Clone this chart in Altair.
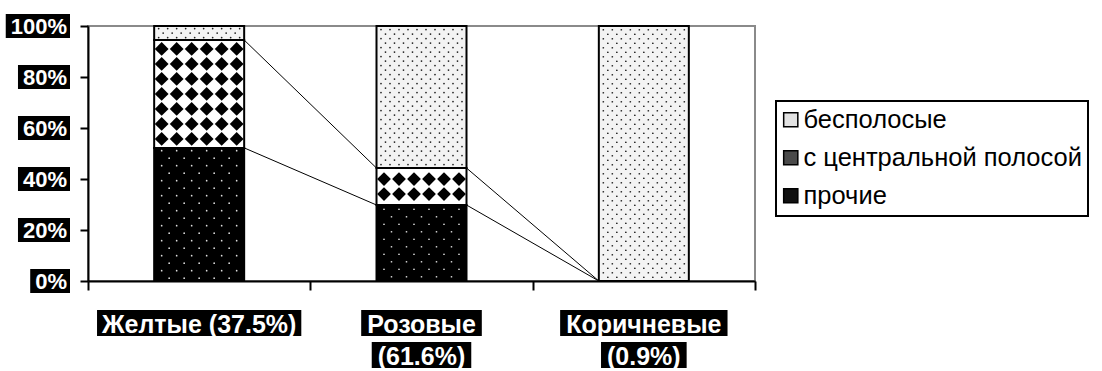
import altair as alt
import pandas as pd

# ---------------- data ----------------
categories = ["Желтые (37.5%)", "Розовые (61.6%)", "Коричневые (0.9%)"]
category_lines = [["Желтые (37.5%)"], ["Розовые", "(61.6%)"], ["Коричневые", "(0.9%)"]]
series_bottom_to_top = ["прочие", "с центральной полосой", "бесполосые"]
prochie = [52.2, 29.8, 0.0]
central = [42.3, 14.5, 0.0]
bespolosye = [5.5, 55.7, 100.0]
y_tick_values = [0, 20, 40, 60, 80, 100]
y_tick_labels = ["0%", "20%", "40%", "60%", "80%", "100%"]
legend_order = ["бесполосые", "с центральной полосой", "прочие"]

# ---------------- layout / style ----------------
W, H = 667, 255
PXU = W / len(categories)          # pixels per category unit
PXV = H / 100.0                    # pixels per percent
BAR_HALF = 45 / PXU
FILLS = {"бесполосые": "#f3f3f3", "с центральной полосой": "#ffffff", "прочие": "#000000"}
LEGEND_FILLS = {"бесполосые": "#e2e2e2", "с центральной полосой": "#4a4a4a", "прочие": "#111111"}
FONT = "Liberation Sans"

# approximate glyph widths (em) for Liberation Sans Bold
_W = {"%": 0.889, "(": 0.333, ")": 0.333, ".": 0.278, " ": 0.278,
      "Ж": 0.94, "К": 0.70, "Р": 0.667, "е": 0.556, "л": 0.60, "т": 0.46, "ы": 0.80,
      "о": 0.611, "з": 0.52, "в": 0.58, "р": 0.611, "и": 0.611, "ч": 0.58, "н": 0.611}


def text_w(s, size):
    return sum(_W.get(c, 0.556) for c in s) * size


# ---------------- tables ----------------
rows = []
for i, cat in enumerate(categories):
    vals = [prochie[i], central[i], bespolosye[i]]
    cum = 0.0
    for s, v in zip(series_bottom_to_top, vals):
        if v > 0:
            rows.append({"cat": cat, "series": s, "x0": i + 0.5 - BAR_HALF, "x1": i + 0.5 + BAR_HALF,
                         "y0": cum, "y1": cum + v, "fillcol": FILLS[s]})
        cum += v
bars = pd.DataFrame(rows)


# fill textures (purely decorative hatching inside each bar segment)
def texture(seg, dx, dy, stagger, half):
    out = []
    left_px = seg["x0"] * PXU
    width_px = (seg["x1"] - seg["x0"]) * PXU
    top_px = seg["y1"] * PXV
    bot_px = seg["y0"] * PXV
    band = top_px - bot_px
    nrow = int((band - 2 * half - 2) // dy) + 1 if band > 2 * half + 2 else 0
    y_start = top_px - (band - (nrow - 1) * dy) / 2
    for r in range(nrow):
        py = y_start - r * dy
        off = (stagger if r % 2 else 0.0)
        px = off + dx / 2
        while px + half <= width_px - 0.5:
            if px - half >= 0.5:
                out.append({"tx": (left_px + px) / PXU, "ty": py / PXV})
            px += dx
    return out


tex = {"прочие": [], "с центральной полосой": [], "бесполосые": []}
for _, sg in bars.iterrows():
    if sg["series"] == "прочие":
        tex["прочие"] += texture(sg, 15, 7.5, 7.5, 1)
    elif sg["series"] == "с центральной полосой":
        tex["с центральной полосой"] += texture(sg, 15, 15, 0, 7)
    else:
        tex["бесполосые"] += texture(sg, 9, 4.5, 4.5, 1)

seg = []
for i in range(len(categories) - 1):
    a = [prochie[i], prochie[i] + central[i]]
    b = [prochie[i + 1], prochie[i + 1] + central[i + 1]]
    for ya, yb in zip(a, b):
        seg.append({"x0": i + 0.5 + BAR_HALF, "x1": i + 1.5 - BAR_HALF, "y0": ya, "y1": yb})
lines = pd.DataFrame(seg)

YFS = 22
ylab = pd.DataFrame({"v": y_tick_values, "lab": y_tick_labels})
ylab["lx"] = [(-18 - text_w(t, YFS) - 8) / PXU for t in y_tick_labels]
ylab["rx"] = -18 / PXU
ylab["tx"] = -21 / PXU
ylab["yt"] = ylab["v"] + 12 / PXV
ylab["yb"] = ylab["v"] - 12 / PXV

XFS = 25
xl = []
for i, ls in enumerate(category_lines):
    for r, t in enumerate(ls):
        half = (text_w(t, XFS) + 12) / 2 / PXU
        xl.append({"lab": t, "cx": i + 0.5, "lx": i + 0.5 - half, "rx": i + 0.5 + half,
                   "yt": -(29 + 32 * r) / PXV, "yb": -(55 + 32 * r) / PXV, "yc": -(42.5 + 32 * r) / PXV})
xlab = pd.DataFrame(xl)

# ---------------- chart ----------------
xscale = alt.Scale(domain=[0, 3], nice=False, zero=False)
yscale = alt.Scale(domain=[0, 100], nice=False, zero=False)
xax = alt.Axis(values=[0, 1, 2, 3], labels=False, title=None, grid=False, ticks=True, zindex=1,
               tickSize=9, tickColor="black", tickWidth=2, domainColor="black", domainWidth=2)
yax = alt.Axis(values=y_tick_values, labels=False, title=None, grid=False, ticks=True, zindex=1,
               tickSize=8, tickColor="black", tickWidth=2, domainColor="black", domainWidth=2)


def X(f):
    return alt.X(f, scale=xscale, axis=xax)


def Y(f):
    return alt.Y(f, scale=yscale, axis=yax)


bar_fill = alt.Chart(bars).mark_rect(strokeWidth=0).encode(
    x=X("x0:Q"), x2="x1:Q", y=Y("y0:Q"), y2="y1:Q",
    fill=alt.Fill("fillcol:N", scale=None),
)

dots_light = alt.Chart(pd.DataFrame(tex["бесполосые"])).mark_circle(size=3, color="#222222", opacity=1).encode(
    x=X("tx:Q"), y=Y("ty:Q"))
dots_dark = alt.Chart(pd.DataFrame(tex["прочие"])).mark_circle(size=3, color="#dddddd", opacity=1).encode(
    x=X("tx:Q"), y=Y("ty:Q"))
diamonds = alt.Chart(pd.DataFrame(tex["с центральной полосой"])).mark_point(
    shape="diamond", filled=True, size=190, color="black", opacity=1, strokeWidth=0).encode(
    x=X("tx:Q"), y=Y("ty:Q"))

bar_outline = alt.Chart(bars).mark_rect(fillOpacity=0, stroke="black", strokeWidth=2).encode(
    x=X("x0:Q"), x2="x1:Q", y=Y("y0:Q"), y2="y1:Q",
)

# legend carrier (zero-size symbols; only the legend is visible)
legend_layer = alt.Chart(pd.DataFrame({"series": legend_order})).mark_square(size=0, opacity=1).encode(
    x=alt.value(0), y=alt.value(0),
    color=alt.Color("series:N", scale=alt.Scale(domain=legend_order,
                                                range=[LEGEND_FILLS[s] for s in legend_order]),
                    legend=alt.Legend(orient="none", legendX=688, legendY=75, title=None, symbolType="square",
                                      symbolSize=200, symbolStrokeColor="black", symbolStrokeWidth=1.5,
                                      symbolOpacity=1, symbolOffset=-4,
                                      labelFont=FONT, labelFontSize=25.5, labelColor="black", labelLimit=400,
                                      labelOffset=0, rowPadding=11, padding=6, strokeColor="black")),
)

line_layer = alt.Chart(lines).mark_rule(color="black", strokeWidth=1).encode(
    x=X("x0:Q"), x2="x1:Q", y=Y("y0:Q"), y2="y1:Q",
)

ylab_bg = alt.Chart(ylab).mark_rect(color="black").encode(
    x=X("lx:Q"), x2="rx:Q", y=Y("yb:Q"), y2="yt:Q",
)
ylab_text = alt.Chart(ylab).mark_text(color="white", font=FONT, fontWeight="bold", fontSize=YFS,
                                      align="right", baseline="middle", dy=1).encode(
    x=X("tx:Q"), y=Y("v:Q"), text="lab:N",
)

xlab_bg = alt.Chart(xlab).mark_rect(color="black").encode(
    x=X("lx:Q"), x2="rx:Q", y=Y("yb:Q"), y2="yt:Q",
)
xlab_text = alt.Chart(xlab).mark_text(color="white", font=FONT, fontWeight="bold", fontSize=XFS,
                                      align="center", baseline="middle", dy=1).encode(
    x=X("cx:Q"), y=Y("yc:Q"), text="lab:N",
)

chart = alt.layer(bar_fill, dots_light, dots_dark, diamonds, bar_outline, line_layer,
                  ylab_bg, ylab_text, xlab_bg, xlab_text, legend_layer).properties(
    width=W, height=H,
    padding={"left": 88, "top": 26, "right": 1102 - 88 - W, "bottom": 371 - 26 - H},
    autosize=alt.AutoSizeParams(type="none"),
).configure_view(stroke="#8a8a8a", strokeWidth=2).configure_legend(strokeWidth=2)

chart.save("out.html", embed_options={"renderer": "svg", "actions": False})
